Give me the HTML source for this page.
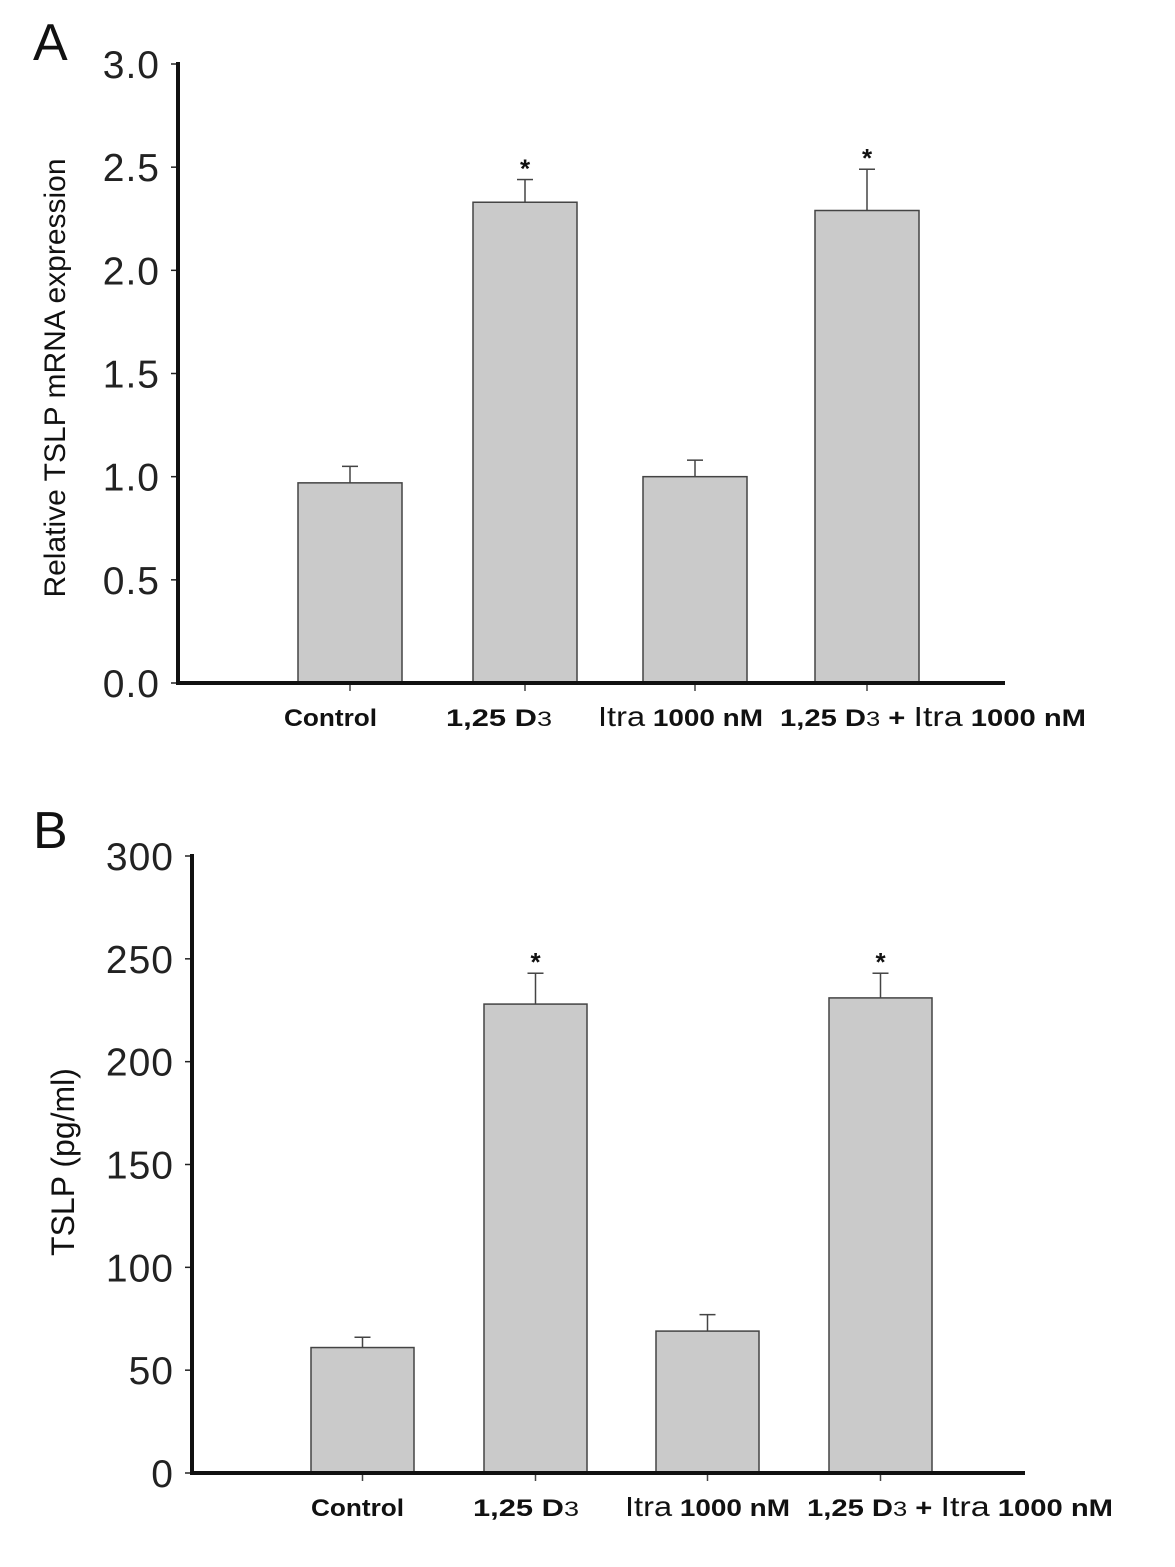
<!DOCTYPE html>
<html><head><meta charset="utf-8"><style>
body{margin:0;background:#fff;}
svg{display:block;font-family:"Liberation Sans",Arial,sans-serif;}
</style></head><body>
<svg id="chart" width="1175" height="1567" viewBox="0 0 1175 1567" xmlns="http://www.w3.org/2000/svg"></svg>
<script>
const categories=["Control","1,25 D3","Itra 1000 nM","1,25 D3 + Itra 1000 nM"];
const valuesA=[0.97,2.33,1.0,2.29];
const errorsA=[0.08,0.11,0.08,0.20];
const ticksA=["0.0","0.5","1.0","1.5","2.0","2.5","3.0"];
const tickValsA=[0,0.5,1,1.5,2,2.5,3];
const sigA=[false,true,false,true];
const valuesB=[61,228,69,231];
const errorsB=[5,15,8,12];
const ticksB=["0","50","100","150","200","250","300"];
const tickValsB=[0,50,100,150,200,250,300];
const sigB=[false,true,false,true];

const svg=document.getElementById('chart');
const NS="http://www.w3.org/2000/svg";
function mk(tag,attrs,parent){const e=document.createElementNS(NS,tag);for(const k in attrs)e.setAttribute(k,attrs[k]);(parent||svg).appendChild(e);return e;}

function panel(cfg){
  const g=mk('g',{});
  
  
  const y=v=>cfg.y0-(v-cfg.vmin)/(cfg.vmax-cfg.vmin)*(cfg.y0-cfg.y1);
  const L=mk('text',{x:cfg.letterX,y:cfg.letterY,'font-size':52,fill:'#111'},g);L.textContent=cfg.letter;
  
  
  cfg.tickVals.forEach((tv,i)=>{
    const ty=y(tv);
    const t=mk('line',{x1:cfg.ax-7,x2:cfg.ax,y1:ty,y2:ty,stroke:'#222','stroke-width':1.5},g);
    
    
    const tx=mk('text',{x:cfg.ax-18,y:ty+14,'text-anchor':'end','font-size':39,fill:'#222','letter-spacing':1},g);
    tx.textContent=cfg.ticks[i];
    
    
  });
  cfg.values.forEach((v,i)=>{
    const x=cfg.barX[i];
    const top=y(v),et=y(v+cfg.errors[i]);
    const cx=x+cfg.bw/2;
    const el=mk('line',{x1:cx,x2:cx,y1:et,y2:top,stroke:'#444','stroke-width':1.5},g);
    
    
    const ec=mk('line',{x1:cx-8,x2:cx+8,y1:et,y2:et,stroke:'#444','stroke-width':1.5},g);
    
    
    const r=mk('rect',{x:x,y:top,width:cfg.bw,height:cfg.y0-top,fill:'#cacaca',stroke:'#444','stroke-width':1.5},g);
    
    
    const xt=mk('line',{x1:cx,x2:cx,y1:cfg.y0,y2:cfg.y0+8,stroke:'#444','stroke-width':1.5},g);
    
    
    if(cfg.sig[i]){
      const s=mk('text',{x:cx,y:et-2,'text-anchor':'middle','font-size':26,'font-weight':'bold',fill:'#111'},g);
      s.textContent='*';
      
      
    }
  });
  const ya=mk('line',{x1:cfg.ax,x2:cfg.ax,y1:cfg.y1-2,y2:cfg.y0+2,stroke:'#111','stroke-width':4},g);
  
  
  const xa=mk('line',{x1:cfg.ax-2,x2:cfg.axEnd,y1:cfg.y0,y2:cfg.y0,stroke:'#111','stroke-width':4},g);
  
  
  const yt=mk('text',{x:0,y:0,'text-anchor':'middle','font-size':cfg.ytSize,fill:'#111',transform:`translate(${cfg.ytX},${cfg.ytY}) rotate(-90)`},g);
  yt.textContent=cfg.ytitle;
  
  
  const ly=cfg.y0+43;
  const lab=(x,len,parts)=>{
    const t=mk('text',{x:x,y:ly,'font-size':24,'font-weight':'bold',fill:'#111',textLength:len,lengthAdjust:'spacingAndGlyphs'},g);
    
    
    parts.forEach(p=>{const s=mk('tspan',p.a||{},t);s.textContent=p.t;});
  };
  const o=cfg.labOff;
  lab(284+o,93,[{t:categories[0]}]);
  lab(446+o,106,[{t:'1,25 D'},{t:'3',a:{'font-size':21,'font-weight':'normal'}}]);
  lab(598+o,165,[{t:'Itra',a:{'font-size':28,'font-weight':'normal'}},{t:' 1000  nM'}]);
  lab(780+o,306,[{t:'1,25 D'},{t:'3',a:{'font-size':21,'font-weight':'normal'}},{t:' + '},{t:'Itra',a:{'font-size':28,'font-weight':'normal'}},{t:' 1000 nM'}]);
}
panel({name:'panel-a',letter:'A',letterX:33,letterY:60,ax:178,axEnd:1005,y0:683,y1:64,vmin:0,vmax:3,
  ticks:ticksA,tickVals:tickValsA,values:valuesA,errors:errorsA,sig:sigA,barX:[298,473,643,815],bw:104,
  ytitle:'Relative TSLP mRNA expression',ytSize:30,ytX:65,ytY:378,labOff:0});
panel({name:'panel-b',letter:'B',letterX:33,letterY:848,ax:192,axEnd:1025,y0:1473,y1:856,vmin:0,vmax:300,
  ticks:ticksB,tickVals:tickValsB,values:valuesB,errors:errorsB,sig:sigB,barX:[311,484,656,829],bw:103,
  ytitle:'TSLP (pg/ml)',ytSize:32,ytX:74,ytY:1162,labOff:27});
</script>
</body></html>
